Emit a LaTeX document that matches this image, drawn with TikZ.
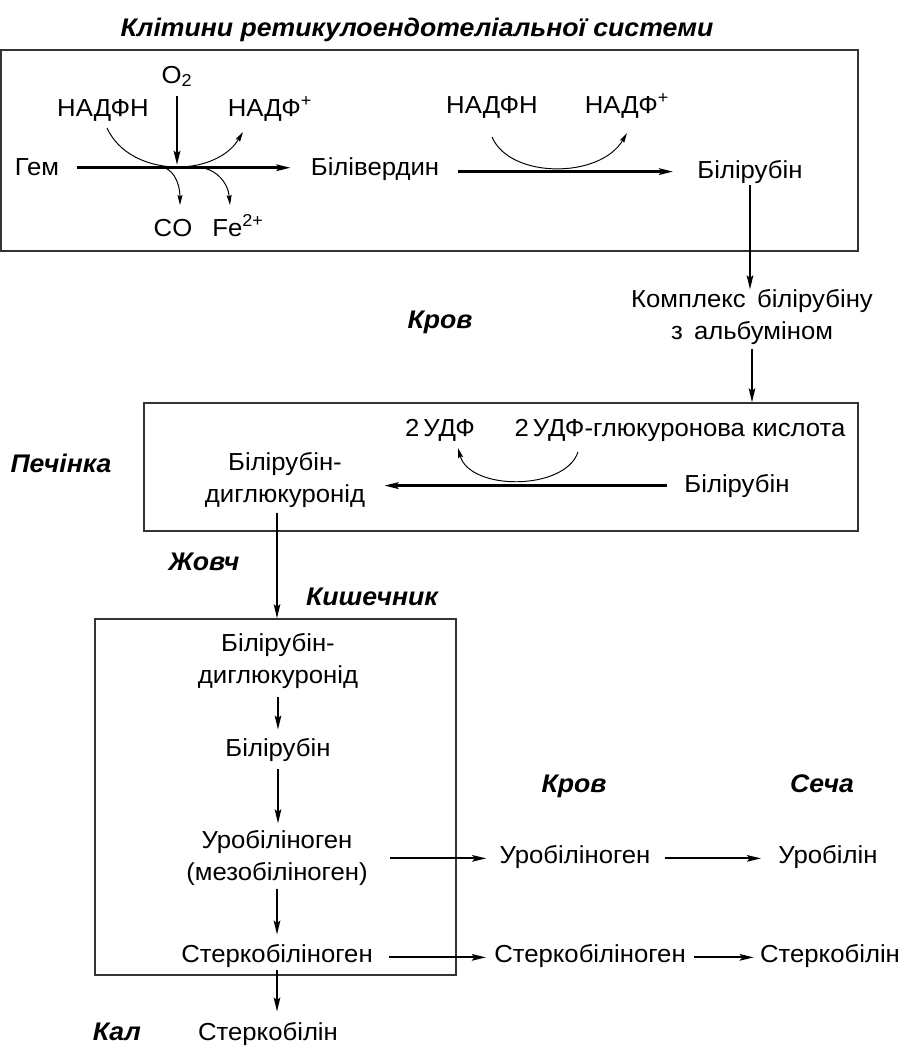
\documentclass[tikz,border=0pt]{standalone}
\usepackage{fontspec}
\setmainfont{Liberation Sans}[FakeStretch=1.045]
\usetikzlibrary{arrows.meta,positioning,calc,fit}

\begin{document}
\begin{tikzpicture}[
  x=0.2mm, y=-0.2mm,
  >={Stealth[length=2.8mm,width=1.3mm,inset=0.5mm]},
  every node/.style={font=\fontsize{14}{17.8}\selectfont, inner sep=0pt, align=center, anchor=base},
  pair/.style={anchor=center},
  place/.style={font=\fontsize{14.5}{16}\selectfont\bfseries\itshape},
  frame/.style={draw=black!80, line width=0.8pt, inner sep=0pt, anchor=center},
  main/.style={->, line width=1.5pt},
  flow/.style={->, line width=1.1pt},
  side/.style={-{Stealth[length=2mm,width=1mm,inset=0.3mm]}, line width=0.55pt}
]
\useasboundingbox (0,0) rectangle (901,1046);

% cells of the reticuloendothelial system
\node[place] (title) at (417,36) {Клітини ретикулоендотеліальної системи};
\node[frame, fit={(1,50) (858,251)}] (res) {};
\node (gem) at (37,175) {Гем};
\node (o2) at (177,83) {O\textsubscript{2}};
\node (nadph1) at (103,116) {НАДФН};
\node (nadp1) at (270,116) {НАДФ\textsuperscript{+}};
\node (co) at (173,236) {CO};
\node (fe) at (238,236) {Fe\textsuperscript{2+}};
\node (biliv) at (375,175) {Білівердин};
\node (nadph2) at (492,113) {НАДФН};
\node (nadp2) at (627,113) {НАДФ\textsuperscript{+}};
\node (bilir1) at (750,178) {Білірубін};
\coordinate (rx) at (177,167);

\draw[main, shorten <=3.6mm, shorten >=4mm] ([yshift=1.5pt]gem.mid east) -- ([yshift=1.5pt]biliv.mid west);
\draw[main, shorten <=1.8mm, shorten >=0.4mm] (o2) -- (rx);
\draw[side] ($(nadph1.base)+(4,12)$) .. controls (130,178) and (215,178) .. ($(nadp1.base)+(-27,16)$);
\draw[side] ($(rx)+(-17,0)$) .. controls (172,167) and (180,182) .. ($(co.base)+(7,-31)$);
\draw[side] ($(rx)+(18,0)$) .. controls (215,167) and (228,182) .. ($(fe.base)+(-8,-31)$);
\draw[main, shorten <=3.8mm, shorten >=4.8mm] ([yshift=1pt]bilir1.mid west -| biliv.mid east) -- ([yshift=1pt]bilir1.mid west);
\draw[side] ($(nadph2.base)+(0,24)$) .. controls (510,179) and (600,179) .. ($(nadp2.base)+(0,20)$);

% blood
\node[pair] (complex) at (752,317) {Комплекс\, білірубіну\\з\, альбуміном};
\node[place] (krov1) at (440,328) {Кров};
\draw[flow, shorten <=0.4mm] (bilir1.south) -- (bilir1.south |- complex.north);

% liver
\node[frame, fit={(144,403) (858,531)}] (liver) {};
\node[place] (pechinka) at (61,472) {Печінка};
\node (udf) at (440,436) {2\,УДФ};
\node (udfgluc) at (680,436) {2\,УДФ-глюкуронова кислота};
\node (bilir2) at (737,492) {Білірубін};
\node[pair] (bdg1) at (285,480) {Білірубін-\\диглюкуронід};
\draw[flow, shorten <=0.8mm] (complex.south) -- (complex.south |- liver.north);
\draw[main, shorten <=3.4mm, shorten >=3.8mm] ([yshift=1pt]bilir2.mid west) -- ([yshift=1pt]bilir2.mid west -| bdg1.east);
\draw[side] ($(udfgluc.base)+(-102,16)$) .. controls (565,491) and (470,491) .. ($(udf.base)+(18,12)$);

% intestine
\node[place] (zhovch) at (204,570) {Жовч};
\node[place] (kyshka) at (372,605) {Кишечник};
\node[frame, fit={(95,619) (456,975)}] (gut) {};
\node[pair] (bdg2) at (278,661) {Білірубін-\\диглюкуронід};
\node (bilir3) at (278,756) {Білірубін};
\node[pair] (uro1) at (277,858) {Уробіліноген\\(мезобіліноген)};
\node (ster1) at (277,962) {Стеркобіліноген};
\node[place] (kal) at (117,1040) {Кал};
\node (sterbil1) at (268,1040) {Стеркобілін};
\path (bdg1.south) ++(-8,0) coordinate (bile);
\draw[flow, shorten <=1mm] (bile) -- (bile |- gut.north);
\draw[flow, shorten <=1.6mm, shorten >=1.6mm] (bdg2.south) -- (bdg2.south |- bilir3.north);
\draw[flow, shorten <=1.6mm, shorten >=1.4mm] (bilir3.south) -- (bilir3.south |- uro1.north);
\draw[flow, shorten <=0.6mm, shorten >=1.8mm] (uro1.south) -- (uro1.south |- ster1.north);
\draw[flow, shorten <=0.6mm, shorten >=2mm] (ster1.south) -- (ster1.south |- sterbil1.north);

% blood and urine
\node[place] (krov2) at (574,792) {Кров};
\node[place] (secha) at (822,792) {Сеча};
\node (uro2) at (575,863) {Уробіліноген};
\node (urobil) at (828,863) {Уробілін};
\node (ster2) at (590,962) {Стеркобіліноген};
\node (sterbil2) at (830,962) {Стеркобілін};
\draw[flow, shorten <=4.4mm, shorten >=2.6mm] (uro2.mid west -| uro1.east) -- (uro2.mid west);
\draw[flow, shorten <=2.8mm, shorten >=3.4mm] (uro2.mid east) -- (urobil.mid west);
\draw[flow, shorten <=3.2mm, shorten >=1.6mm] (ster1.mid east) -- (ster2.mid west);
\draw[flow, shorten <=1.6mm, shorten >=1.2mm] (ster2.mid east) -- (sterbil2.mid west);
\end{tikzpicture}
\end{document}
